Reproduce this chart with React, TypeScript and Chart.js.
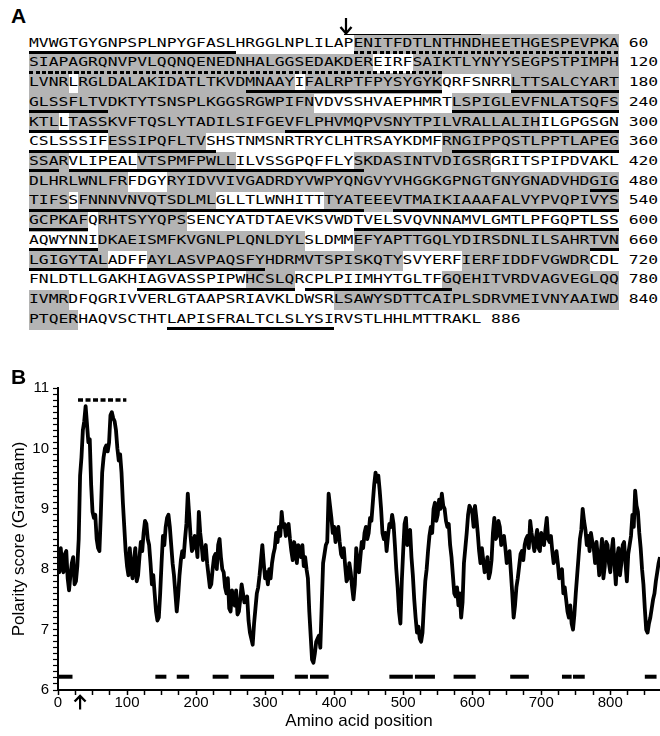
import React, { useEffect, useRef } from 'react';
import { Chart, registerables } from 'chart.js';

Chart.register(...registerables);

// ---------------- Panel A: sequence ----------------
const SEQUENCE_LINES = [
  'MVWGTGYGNPSPLNPYGFASLHRGGLNPLILAPENITFDTLNTHNDHEETHGESPEVPKA',
  'SIAPAGRQNVPVLQQNQENEDNHALGGSEDAKDEREIRFSAIKTLYNYYSEGPSTPIMPH',
  'LVNRLRGLDALAKIDATLTKVDMNAAYIFALRPTFPYSYGYKQRFSNRRLTTSALCYART',
  'GLSSFLTVDKTYTSNSPLKGGSRGWPIFNVDVSSHVAEPHMRTLSPIGLEVFNLATSQFS',
  'KTLLTASSKVFTQSLYTADILSIFGEVFLPHVMQPVSNYTPILVRALLALIHILGPGSGN',
  'CSLSSSIFESSIPQFLTVSHSTNMSNRTRYCLHTRSAYKDMFRNGIPPQSTLPPTLAPEG',
  'SSARVLIPEALVTSPMFPWLLILVSSGPQFFLYSKDASINTVDIGSRGRITSPIPDVAKL',
  'DLHRLWNLFRFDGYRYIDVVIVGADRDYVWPYQNGVYVHGGKGPNGTGNYGNADVHDGIG',
  'TIFSSFNNNVNVQTSDLMLGLLTLWNHITTTYATEEEVTMAIKIAAAFALVYPVQPIVYS',
  'GCPKAFQRHTSYYQPSSENCYATDTAEVKSVWDTVELSVQVNNAMVLGMTLPFGQPTLSS',
  'AQWYNNIDKAEISMFKVGNLPLQNLDYLSLDMMEFYAPTTGQLYDIRSDNLILSAHRTVN',
  'LGIGYTALADFFAYLASVPAQSFYHDRMVTSPISKQTYSVYERFIERFIDDFVGWDRCDL',
  'FNLDTLLGAKHIAGVASSPIPWHCSLQRCPLPIIMHYTGLTFGQEHITVRDVAGVEGLQQ',
  'IVMRDFQGRIVVERLGTAAPSRIAVKLDWSRLSAWYSDTTCAIPLSDRVMEIVNYAAIWD',
  'PTQERHAQVSCTHTLAPISFRALTCLSLYSIRVSTLHHLMTTRAKL',
];
const LINE_END_NUMBERS = [60, 120, 180, 240, 300, 360, 420, 480, 540, 600, 660, 720, 780, 840, 886];
const SHADED_RANGES: [number, number][] = [
  [34, 95], [100, 124], [126, 147], [149, 162], [170, 209], [224, 243], [245, 292],
  [309, 318], [343, 364], [372, 381], [394, 407], [421, 430], [435, 484], [486, 499],
  [511, 546], [548, 556], [608, 628], [634, 668], [673, 698], [705, 717], [743, 747],
  [763, 784], [812, 845],
];
const SOLID_UNDERLINES: [number, number][] = [
  [1, 21], [143, 162], [170, 188], [224, 248], [267, 319], [344, 363], [365, 394],
  [478, 514], [518, 546], [574, 607], [658, 684], [732, 747], [749, 763], [855, 871],
];
const DASHED_UNDERLINES: [number, number][] = [[34, 102]];
const OVERLINE_RANGES: [number, number][] = [[33, 46]];
const SIGNAL_CLEAVAGE = 33;

// ---------------- Panel B: polarity profile ----------------
const POSITIONS = [
  0, 2, 4, 6, 8, 10, 12, 14, 16, 18, 20, 22, 24, 26, 28, 30, 32, 34, 36, 38,
  40, 42, 44, 46, 48, 50, 52, 54, 56, 58, 60, 62, 64, 66, 68, 70, 72, 74, 76, 78,
  80, 82, 84, 86, 88, 90, 92, 94, 96, 98, 100, 102, 104, 106, 108, 110, 112, 114, 116, 118,
  120, 122, 124, 126, 128, 130, 132, 134, 136, 138, 140, 142, 144, 146, 148, 150, 152, 154, 156, 158,
  160, 162, 164, 166, 168, 170, 172, 174, 176, 178, 180, 182, 184, 186, 188, 190, 192, 194, 196, 198,
  200, 202, 204, 206, 208, 210, 212, 214, 216, 218, 220, 222, 224, 226, 228, 230, 232, 234, 236, 238,
  240, 242, 244, 246, 248, 250, 252, 254, 256, 258, 260, 262, 264, 266, 268, 270, 272, 274, 276, 278,
  280, 282, 284, 286, 288, 290, 292, 294, 296, 298, 300, 302, 304, 306, 308, 310, 312, 314, 316, 318,
  320, 322, 324, 326, 328, 330, 332, 334, 336, 338, 340, 342, 344, 346, 348, 350, 352, 354, 356, 358,
  360, 362, 364, 366, 368, 370, 372, 374, 376, 378, 380, 382, 384, 386, 388, 390, 392, 394, 396, 398,
  400, 402, 404, 406, 408, 410, 412, 414, 416, 418, 420, 422, 424, 426, 428, 430, 432, 434, 436, 438,
  440, 442, 444, 446, 448, 450, 452, 454, 456, 458, 460, 462, 464, 466, 468, 470, 472, 474, 476, 478,
  480, 482, 484, 486, 488, 490, 492, 494, 496, 498, 500, 502, 504, 506, 508, 510, 512, 514, 516, 518,
  520, 522, 524, 526, 528, 530, 532, 534, 536, 538, 540, 542, 544, 546, 548, 550, 552, 554, 556, 558,
  560, 562, 564, 566, 568, 570, 572, 574, 576, 578, 580, 582, 584, 586, 588, 590, 592, 594, 596, 598,
  600, 602, 604, 606, 608, 610, 612, 614, 616, 618, 620, 622, 624, 626, 628, 630, 632, 634, 636, 638,
  640, 642, 644, 646, 648, 650, 652, 654, 656, 658, 660, 662, 664, 666, 668, 670, 672, 674, 676, 678,
  680, 682, 684, 686, 688, 690, 692, 694, 696, 698, 700, 702, 704, 706, 708, 710, 712, 714, 716, 718,
  720, 722, 724, 726, 728, 730, 732, 734, 736, 738, 740, 742, 744, 746, 748, 750, 752, 754, 756, 758,
  760, 762, 764, 766, 768, 770, 772, 774, 776, 778, 780, 782, 784, 786, 788, 790, 792, 794, 796, 798,
  800, 802, 804, 806, 808, 810, 812, 814, 816, 818, 820, 822, 824, 826, 828, 830, 832, 834, 836, 838,
  840, 842, 844, 846, 848, 850, 852, 854, 856, 858, 860, 862, 864, 866, 868, 870, 872,
];
const SCORES = [
  8.15, 7.95, 8.35, 8.05, 7.95, 8.25, 8.3, 7.85, 7.65, 7.9, 8.1, 8.2, 7.75, 7.8, 8.05, 8.5, 9.55, 9.85, 10.3, 10.45,
  10.7, 10.4, 10.1, 10.15, 9.4, 8.95, 8.85, 8.9, 8.5, 8.35, 8.3, 8.9, 9.6, 9.85, 10.0, 10.05, 9.95, 10.1, 10.55, 10.6,
  10.5, 10.45, 10.3, 10.0, 9.8, 9.9, 9.6, 9.1, 8.7, 8.3, 8.05, 7.9, 8.35, 8.0, 7.85, 8.15, 8.35, 7.8, 7.9, 8.2,
  8.45, 8.3, 8.6, 8.8, 8.75, 8.5, 8.4, 8.1, 7.75, 7.9, 7.6, 7.3, 7.15, 7.2, 7.6, 8.1, 8.55, 8.4, 8.7, 8.85,
  8.9, 8.7, 8.4, 8.1, 7.9, 7.6, 7.3, 7.55, 7.9, 8.15, 8.3, 8.2, 8.5, 8.75, 9.25, 8.9, 8.55, 8.3, 8.35, 8.55,
  8.45, 8.2, 8.95, 8.6, 8.4, 8.15, 8.25, 8.4, 8.1, 7.9, 7.7, 7.75, 8.0, 8.2, 8.25, 8.0, 8.4, 8.5, 8.2, 8.0,
  7.95, 7.7, 7.6, 7.85, 7.35, 7.3, 7.65, 7.45, 7.4, 7.65, 7.25, 7.3, 7.5, 7.75, 7.6, 7.45, 7.5, 7.55, 7.15, 6.95,
  6.85, 6.75, 7.1, 7.35, 7.6, 7.7, 7.9, 8.15, 8.4, 8.1, 7.85, 7.95, 7.75, 8.0, 7.85, 8.1, 8.25, 8.35, 8.6, 8.45,
  8.7, 8.55, 8.95, 8.7, 8.75, 8.55, 8.7, 8.75, 8.5, 8.3, 8.15, 8.45, 8.35, 8.1, 8.4, 8.3, 8.2, 8.4, 8.05, 8.2,
  8.0, 7.85, 7.3, 6.9, 6.5, 6.45, 6.6, 6.8, 6.85, 6.9, 6.7, 7.4, 8.1, 8.25, 8.4, 8.45, 9.25, 9.05, 8.85, 8.6,
  8.7, 8.45, 8.6, 8.7, 8.45, 8.25, 8.2, 8.35, 8.05, 7.8, 7.85, 8.1, 7.95, 7.7, 7.5, 7.75, 8.35, 8.1, 7.95, 8.2,
  8.45, 8.35, 8.6, 8.7, 8.5, 8.6, 8.85, 8.8, 9.1, 9.4, 9.6, 9.45, 9.55, 9.3, 9.0, 8.6, 8.5, 8.6, 8.3, 8.55,
  8.75, 8.7, 8.9, 8.75, 8.4, 8.0, 7.7, 7.3, 7.1, 7.8, 8.3, 8.75, 8.85, 8.4, 8.6, 8.65, 8.2, 7.9, 7.5, 7.2,
  6.95, 7.05, 6.85, 6.8, 6.95, 7.4, 7.8, 8.0, 8.3, 8.55, 8.7, 8.6, 9.0, 9.1, 8.8, 8.9, 9.15, 9.0, 9.25, 9.05,
  9.0, 8.8, 8.7, 8.75, 8.4, 8.2, 7.9, 7.6, 7.55, 7.7, 7.4, 7.6, 7.2, 7.45, 8.1, 8.35, 8.6, 8.9, 9.05, 9.0,
  8.95, 8.7, 9.05, 8.85, 8.6, 8.3, 8.1, 8.35, 8.15, 7.95, 8.0, 8.2, 7.85, 7.95, 8.15, 8.6, 8.85, 8.5, 8.55, 8.8,
  8.7, 8.4, 8.5, 8.55, 8.35, 8.1, 8.2, 8.3, 7.95, 7.6, 7.2, 7.4, 7.7, 7.85, 8.05, 8.25, 8.3, 8.15, 8.4, 8.5,
  8.55, 8.35, 8.8, 8.6, 8.45, 8.3, 8.5, 8.65, 8.35, 8.3, 8.6, 8.45, 8.4, 8.65, 8.85, 8.5, 8.45, 8.55, 8.3, 8.1,
  8.2, 8.3, 8.1, 7.85, 7.95, 8.0, 7.6, 7.7, 7.5, 7.3, 7.2, 7.4, 7.1, 7.0, 7.25, 7.6, 7.9, 8.2, 8.5, 8.65,
  9.0, 8.8, 8.65, 8.4, 8.55, 8.3, 8.6, 8.45, 8.35, 8.1, 8.45, 8.2, 7.9, 8.25, 8.5, 7.85, 8.05, 8.45, 8.4, 8.1,
  7.95, 8.3, 8.5, 8.1, 7.75, 8.2, 8.35, 7.9, 8.1, 8.4, 8.45, 8.1, 7.8, 8.25, 8.4, 8.55, 8.9, 8.7, 9.3, 9.05,
  8.95, 8.6, 8.35, 8.0, 7.75, 7.35, 7.0, 6.95, 7.1, 7.2, 7.35, 7.5, 7.6, 7.8, 7.95, 8.1, 8.2,
];
const TM_SEGMENTS: [number, number][] = [
  [0, 21], [141, 157], [172, 190], [224, 247], [264, 313], [343, 362], [365, 392],
  [480, 514], [517, 546], [573, 605], [655, 682], [730, 744], [746, 763], [850, 867],
];
const TM_LEVEL = 6.22;
const DASHED_SEGMENT: [number, number] = [29, 99];
const DASHED_LEVEL = 10.8;
const ARROW_POSITION = 32;
const X_MIN = 0;
const X_MAX = 872;
const Y_MIN = 6;
const Y_MAX = 11;
const X_TITLE = 'Amino acid position';
const Y_TITLE = 'Polarity score (Grantham)';

// ---------------- layout constants ----------------
const SEQ_LEFT = 29.3;
const CHAR_W = 9.83;
const ROW0 = 42.5;
const ROW_H = 19.72;
const PER_ROW = 60;
const SEQ_FONT_SIZE = 13;
const SEQ_SCALE = CHAR_W / (0.602 * SEQ_FONT_SIZE);
const FONT = 'Arial, "Liberation Sans", Helvetica, sans-serif';

type Seg = { row: number; c0: number; c1: number };
function splitRows(ranges: [number, number][]): Seg[] {
  const out: Seg[] = [];
  for (const [s, e] of ranges) {
    let a = s;
    while (a <= e) {
      const row = Math.floor((a - 1) / PER_ROW);
      const b = Math.min(e, (row + 1) * PER_ROW);
      out.push({ row, c0: a - row * PER_ROW, c1: b - row * PER_ROW });
      a = b + 1;
    }
  }
  return out;
}
const rowCenter = (r: number) => ROW0 + r * ROW_H;
const colLeft = (c: number) => SEQ_LEFT + (c - 1) * CHAR_W;

function SequencePanel() {
  const shaded = splitRows(SHADED_RANGES);
  const solid = splitRows(SOLID_UNDERLINES);
  const dashed = splitRows(DASHED_UNDERLINES);
  const over = splitRows(OVERLINE_RANGES);
  const arrowX = colLeft(SIGNAL_CLEAVAGE) + 2;
  return (
    <div style={{ position: 'absolute', left: 0, top: 0, width: 660, height: 370 }}>
      <div style={{ position: 'absolute', left: 11, top: 5, font: `bold 21px ${FONT}`, lineHeight: '21px', color: '#000' }}>A</div>
      {shaded.map((s, i) => (
        <div key={'g' + i} style={{
          position: 'absolute', left: colLeft(s.c0), width: (s.c1 - s.c0 + 1) * CHAR_W,
          top: rowCenter(s.row) - 8.5, height: ROW_H + 0.4, background: '#b4b4b4',
        }} />
      ))}
      {SEQUENCE_LINES.map((line, r) => (
        <div key={'t' + r} style={{
          position: 'absolute', left: SEQ_LEFT, top: rowCenter(r) - ROW_H / 2, height: ROW_H,
          lineHeight: ROW_H + 'px', fontSize: SEQ_FONT_SIZE, fontFamily: '"DejaVu Sans Mono", monospace',
          whiteSpace: 'pre', color: '#000', transform: `scaleX(${SEQ_SCALE})`, transformOrigin: '0 0',
        }}>{line + ' ' + LINE_END_NUMBERS[r]}</div>
      ))}
      {solid.map((s, i) => (
        <div key={'u' + i} style={{
          position: 'absolute', left: colLeft(s.c0), width: (s.c1 - s.c0 + 1) * CHAR_W,
          top: rowCenter(s.row) + 8.5, height: 3, background: '#000',
        }} />
      ))}
      {dashed.map((s, i) => (
        <div key={'d' + i} style={{
          position: 'absolute', left: colLeft(s.c0), width: (s.c1 - s.c0 + 1) * CHAR_W,
          top: rowCenter(s.row) + 8.5, height: 3,
          background: 'repeating-linear-gradient(to right, #000 0px, #000 4px, transparent 4px, transparent 6.5px)',
        }} />
      ))}
      {over.map((s, i) => (
        <div key={'o' + i} style={{
          position: 'absolute', left: colLeft(s.c0), width: (s.c1 - s.c0 + 1) * CHAR_W,
          top: rowCenter(s.row) - 9, height: 1.5, background: '#000',
        }} />
      ))}
      <svg style={{ position: 'absolute', left: arrowX - 7, top: 18, overflow: 'visible' }} width={14} height={18}>
        <line x1={7} y1={0} x2={7} y2={15} stroke="#000" strokeWidth={2.2} />
        <polyline points="1.5,9 7,15.5 12.5,9" fill="none" stroke="#000" strokeWidth={2.4} />
      </svg>
    </div>
  );
}

const arrowPlugin = {
  id: 'cleavageArrow',
  afterDraw(chart: any) {
    const { ctx, scales } = chart;
    const px = scales.x.getPixelForValue(ARROW_POSITION);
    const top = chart.chartArea.bottom + 5.5;
    ctx.save();
    ctx.strokeStyle = '#000';
    ctx.lineWidth = 2.2;
    ctx.beginPath();
    ctx.moveTo(px, top + 1);
    ctx.lineTo(px, top + 14);
    ctx.stroke();
    ctx.lineWidth = 2.4;
    ctx.beginPath();
    ctx.moveTo(px - 5.5, top + 6);
    ctx.lineTo(px, top + 0.5);
    ctx.lineTo(px + 5.5, top + 6);
    ctx.stroke();
    ctx.restore();
  },
};

function PolarityChart() {
  const ref = useRef<HTMLCanvasElement | null>(null);
  useEffect(() => {
    if (!ref.current) return;
    const lineStyle = { borderColor: '#000', pointRadius: 0, fill: false, tension: 0 };
    const datasets: any[] = [
      {
        ...lineStyle,
        data: POSITIONS.map((x, i) => ({ x, y: SCORES[i] })),
        borderWidth: 3.8,
        borderJoinStyle: 'round',
      },
      {
        ...lineStyle,
        data: [{ x: DASHED_SEGMENT[0], y: DASHED_LEVEL }, { x: DASHED_SEGMENT[1], y: DASHED_LEVEL }],
        borderWidth: 3.5,
        borderDash: [5, 2.5],
        borderCapStyle: 'butt',
      },
      ...TM_SEGMENTS.map(([a, b]) => ({
        ...lineStyle,
        data: [{ x: a, y: TM_LEVEL }, { x: b, y: TM_LEVEL }],
        borderWidth: 4,
        borderCapStyle: 'butt',
      })),
    ];
    const tickFont = { family: FONT, size: 15, lineHeight: 1 };
    const titleFont = { family: FONT, size: 17, lineHeight: 1.2 };
    const chart = new Chart(ref.current, {
      type: 'line',
      data: { datasets },
      plugins: [arrowPlugin],
      options: {
        responsive: false,
        animation: false,
        devicePixelRatio: 1,
        layout: { padding: { top: 13, right: 0, left: 0, bottom: 0 } },
        plugins: { legend: { display: false }, tooltip: { enabled: false } },
        scales: {
          x: {
            type: 'linear',
            min: X_MIN,
            max: X_MAX,
            afterFit: (s: any) => { s.height = 46; },
            border: { display: true, color: '#000', width: 2 },
            grid: { display: true, drawOnChartArea: false, drawTicks: true, tickLength: 5, tickColor: '#000', tickWidth: 1.5 },
            ticks: {
              stepSize: 25,
              autoSkip: false,
              maxRotation: 0,
              includeBounds: false,
              padding: 0,
              color: '#000',
              font: tickFont,
              callback: (v: any) => (Math.round(Number(v)) % 100 === 0 ? String(Math.round(Number(v))) : ''),
            },
            title: { display: true, text: X_TITLE, color: '#000', font: titleFont, padding: { top: 0, bottom: 4 } },
          },
          y: {
            type: 'linear',
            min: Y_MIN,
            max: Y_MAX,
            afterFit: (s: any) => { s.width = 58; },
            border: { display: true, color: '#000', width: 2 },
            grid: { display: true, drawOnChartArea: false, drawTicks: true, tickLength: 5, tickColor: '#000', tickWidth: 1.2 },
            ticks: {
              stepSize: 0.1,
              autoSkip: false,
              padding: 4,
              color: '#000',
              font: tickFont,
              callback: (v: any) => {
                const n = Number(v);
                return Math.abs(n - Math.round(n)) < 1e-6 ? String(Math.round(n)) : '';
              },
            },
            title: { display: true, text: Y_TITLE, color: '#000', font: titleFont, padding: { top: 9, bottom: 0 } },
          },
        },
      } as any,
    });
    return () => chart.destroy();
  }, []);
  return (
    <canvas ref={ref} width={660} height={361}
      style={{ position: 'absolute', left: 0, top: 375, width: 660, height: 361, display: 'block' }} />
  );
}

export default function App() {
  return (
    <div style={{ position: 'absolute', left: 0, top: 0, width: 660, height: 736, background: '#fff', overflow: 'hidden' }}>
      <SequencePanel />
      <PolarityChart />
      <div style={{ position: 'absolute', left: 11, top: 366, font: `bold 21px ${FONT}`, lineHeight: '21px', color: '#000' }}>B</div>
    </div>
  );
}
